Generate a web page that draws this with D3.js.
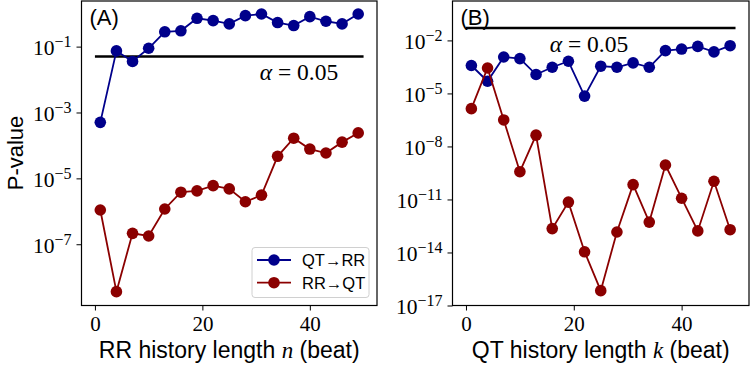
<!DOCTYPE html>
<html>
<head>
<meta charset="utf-8">
<script src="https://cdn.jsdelivr.net/npm/d3@7"></script>
<style>
  body { margin: 0; background: #fff; }
  svg text.serif, svg .serif text { font-family: 'Liberation Serif', 'DejaVu Serif', serif; }
</style>
</head>
<body>
<div id="chart"></div>
<script>
const lags = [1, 4, 7, 10, 13, 16, 19, 22, 25, 28, 31, 34, 37, 40, 43, 46, 49];

// panel A: log10 p-values vs RR history length n
const qtToRrA = [-3.30, -1.13, -1.45, -1.05, -0.55, -0.52, -0.14, -0.21, -0.31, -0.06, -0.01, -0.27, -0.36, -0.09, -0.23, -0.31, -0.01];
const rrToQtA = [-5.96, -8.44, -6.67, -6.75, -5.93, -5.42, -5.38, -5.22, -5.32, -5.71, -5.51, -4.33, -3.78, -4.11, -4.23, -3.90, -3.62];

// panel B: log10 p-values vs QT history length k
const qtToRrB = [-3.42, -4.31, -2.94, -3.03, -3.93, -3.52, -3.18, -5.15, -3.46, -3.52, -3.27, -3.52, -2.58, -2.49, -2.34, -2.65, -2.30];
const rrToQtB = [-5.86, -3.56, -6.50, -9.43, -7.36, -12.65, -11.15, -13.96, -16.16, -12.84, -10.16, -12.28, -9.05, -10.93, -12.78, -9.97, -12.71];

const alpha = 0.05;
const xTicks = [0, 20, 40];
const yTicksA = [-1, -3, -5, -7];
const yTicksB = [-2, -5, -8, -11, -14, -17];
const seriesNames = ["QT\u2192RR", "RR\u2192QT"];
const colors = ["#00008b", "#8b0000"];

const width = 750, height = 365;
const plotTop = 1, plotBottom = 305.5;
const sans = "'Liberation Sans', Arial, sans-serif";

const svg = d3.select("#chart")
              .append("svg")
              .attr("width", width)
              .attr("height", height);

function panel(opts) {
    const x = d3.scaleLinear().domain([-2.5, 52.5]).range(opts.xRange);
    const y = d3.scaleLog().domain(opts.yDomain).range([plotBottom, plotTop]);

    const g = svg.append("g");

    // x axis
    const xAxis = g.append("g")
       .attr("class", "serif")
       .attr("transform", `translate(0, ${plotBottom})`)
       .call(d3.axisBottom(x).tickValues(xTicks).tickSize(5).tickSizeOuter(0).tickPadding(6));
    xAxis.select(".domain").remove();
    xAxis.selectAll("text").attr("font-size", "21px").attr("fill", "#000");
    xAxis.selectAll("line").attr("stroke", "#000");

    // y axis
    const yAxis = g.append("g")
       .attr("class", "serif")
       .attr("transform", `translate(${opts.xRange[0]}, 0)`)
       .call(d3.axisLeft(y).tickValues(opts.yTicks.map(e => Math.pow(10, e))).tickSize(5).tickSizeOuter(0).tickFormat(""));
    yAxis.select(".domain").remove();
    yAxis.selectAll("line").attr("stroke", "#000");
    yAxis.selectAll(".tick").each(function(d) {
        const t = d3.select(this).append("text")
            .attr("x", -10)
            .attr("dy", "0.38em")
            .attr("text-anchor", "end")
            .attr("fill", "#000")
            .attr("font-size", "21.5px");
        t.append("tspan").text("10");
        t.append("tspan")
         .attr("dy", "-0.5em")
         .attr("font-size", "16px")
         .text("\u2212" + Math.round(-Math.log10(d)));
    });

    // frame
    g.append("rect")
     .attr("x", opts.xRange[0])
     .attr("y", plotTop)
     .attr("width", opts.xRange[1] - opts.xRange[0])
     .attr("height", plotBottom - plotTop)
     .attr("fill", "none")
     .attr("stroke", "#000")
     .attr("stroke-width", 1.2);

    // significance line
    g.append("line")
     .attr("x1", x(0)).attr("x2", x(50))
     .attr("y1", y(alpha)).attr("y2", y(alpha))
     .attr("stroke", "#000")
     .attr("stroke-width", 2.6);

    const alphaText = g.append("text")
     .attr("class", "serif")
     .attr("x", opts.alphaPos[0])
     .attr("y", opts.alphaPos[1])
     .attr("font-size", "23.5px")
     .attr("text-anchor", "middle");
    alphaText.append("tspan").attr("font-style", "italic").text("\u03b1");
    alphaText.append("tspan").text(" = 0.05");

    // series
    const line = d3.line()
        .x((d, i) => x(lags[i]))
        .y(d => y(Math.pow(10, d)));

    opts.series.forEach((vals, s) => {
        g.append("path")
         .datum(vals)
         .attr("fill", "none")
         .attr("stroke", colors[s])
         .attr("stroke-width", 1.8)
         .attr("d", line);
        g.append("g")
         .selectAll("circle")
         .data(vals)
         .join("circle")
         .attr("cx", (d, i) => x(lags[i]))
         .attr("cy", d => y(Math.pow(10, d)))
         .attr("r", 5.8)
         .attr("fill", colors[s]);
    });

    // panel label
    g.append("text")
     .attr("x", opts.xRange[0] + 8)
     .attr("y", 25)
     .attr("font-family", sans)
     .attr("font-size", "22px")
     .text(opts.label);

    // x label
    const xl = g.append("text")
     .attr("x", (opts.xRange[0] + opts.xRange[1]) / 2)
     .attr("y", 358)
     .attr("text-anchor", "middle")
     .attr("font-family", sans)
     .attr("font-size", "23px");
    xl.append("tspan").text(opts.xLabel[0]);
    xl.append("tspan")
      .style("font-family", "'Liberation Serif', serif")
      .attr("font-style", "italic")
      .text(opts.xLabel[1]);
    xl.append("tspan").text(opts.xLabel[2]);

    return { x, y, g };
}

panel({
    xRange: [81.5, 377],
    yDomain: [Math.pow(10, -8.86), Math.pow(10, 0.385)],
    yTicks: yTicksA,
    series: [qtToRrA, rrToQtA],
    label: "(A)",
    alphaPos: [299, 80],
    xLabel: ["RR history length ", "n", " (beat)"]
});

panel({
    xRange: [452.5, 749],
    yDomain: [1e-17, Math.pow(10, 0.23)],
    yTicks: yTicksB,
    series: [qtToRrB, rrToQtB],
    label: "(B)",
    alphaPos: [589, 52],
    xLabel: ["QT history length ", "k", " (beat)"]
});

// y label
svg.append("text")
   .attr("transform", "rotate(-90)")
   .attr("x", -153)
   .attr("y", 23)
   .attr("text-anchor", "middle")
   .attr("font-family", sans)
   .attr("font-size", "22px")
   .text("P-value");

// legend
const legend = svg.append("g");
legend.append("rect")
      .attr("x", 252).attr("y", 247.5)
      .attr("width", 117).attr("height", 50)
      .attr("rx", 3)
      .attr("fill", "#fff").attr("fill-opacity", 0.8)
      .attr("stroke", "#d0d0d0");

const rows = legend.selectAll("g.row")
      .data(seriesNames)
      .join("g")
      .attr("transform", (d, i) => `translate(0, ${260 + i * 22.7})`);
rows.append("line")
    .attr("x1", 257).attr("x2", 291)
    .attr("stroke", (d, i) => colors[i])
    .attr("stroke-width", 1.8);
rows.append("circle")
    .attr("cx", 274).attr("r", 5.8)
    .attr("fill", (d, i) => colors[i]);
rows.append("text")
    .attr("x", 302)
    .attr("dy", "0.36em")
    .attr("font-family", sans)
    .attr("font-size", "16.5px")
    .text(d => d);
</script>
</body>
</html>
